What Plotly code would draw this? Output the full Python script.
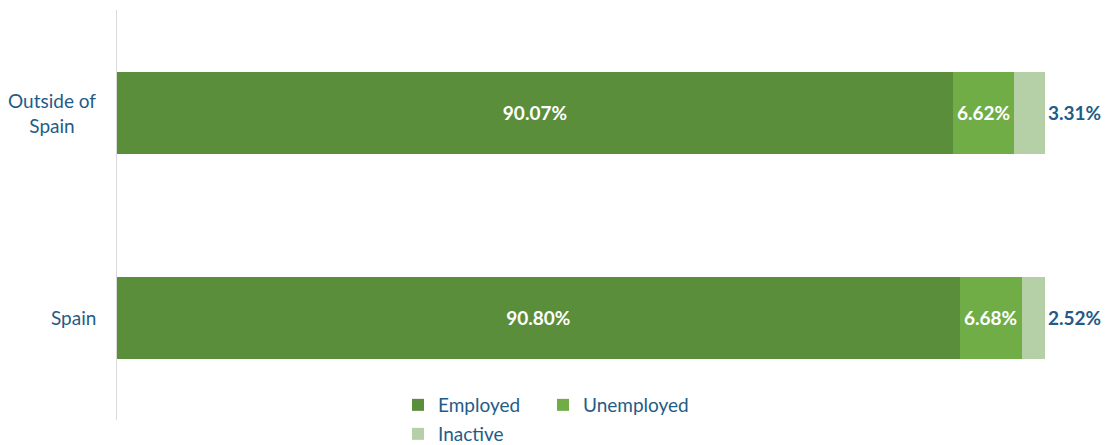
import plotly.graph_objects as go

# Labour status by place of origin (shares of population, %)
categories = ["Outside of Spain", "Spain"]
employed = [90.07, 90.80]
unemployed = [6.62, 6.68]
inactive = [3.31, 2.52]

tick_labels = ["Outside of<br>Spain", "Spain"]

C_EMP = "#5B8E3A"
C_UNEMP = "#70AD47"
C_INACT = "#B5CFA7"
C_TEXT = "#1F5C87"
FONT = "Lato, 'Open Sans', sans-serif"
FS = 19

W, H = 1118, 445
LEG_X = 398 / W

fig = go.Figure()

fig.add_trace(go.Bar(
    y=categories, x=employed, name="Employed", orientation="h",
    marker=dict(color=C_EMP, line=dict(width=0)),
    texttemplate="%{x:.2f}%", textposition="inside", insidetextanchor="middle",
    textfont=dict(color="white", size=FS, family=FONT, weight="bold"),
    legend="legend",
))
fig.add_trace(go.Bar(
    y=categories, x=unemployed, name="Unemployed", orientation="h",
    marker=dict(color=C_UNEMP, line=dict(width=0)),
    texttemplate="%{x:.2f}%", textposition="inside", insidetextanchor="middle",
    textfont=dict(color="white", size=FS, family=FONT, weight="bold"),
    legend="legend",
))
fig.add_trace(go.Bar(
    y=categories, x=inactive, name="Inactive", orientation="h",
    marker=dict(color=C_INACT, line=dict(width=0)),
    texttemplate="%{x:.2f}%", textposition="outside", cliponaxis=False,
    textfont=dict(color=C_TEXT, size=FS, family=FONT, weight="bold"),
    legend="legend2",
))

# Category labels, centred line by line, to the left of the axis
for cat, lab in zip(categories, tick_labels):
    fig.add_annotation(
        x=0, xref="paper", y=cat, yref="y", text=lab, showarrow=False,
        xanchor="right", yanchor="middle", align="center", xshift=-19,
        font=dict(size=FS, color=C_TEXT, family=FONT),
    )

fig.update_layout(
    barmode="stack",
    bargap=0.6,
    width=W, height=H,
    margin=dict(l=117, r=73, t=10, b=25, autoexpand=False),
    paper_bgcolor="white", plot_bgcolor="white",
    font=dict(family=FONT, color=C_TEXT, size=FS),
    legend=dict(
        orientation="h", x=LEG_X, xref="container", xanchor="left",
        y=1 - 405 / H, yref="container", yanchor="middle",
        font=dict(size=FS, color=C_TEXT), entrywidth=100, entrywidthmode="pixels",
        itemwidth=30, bgcolor="rgba(0,0,0,0)", traceorder="normal",
    ),
    legend2=dict(
        orientation="h", x=LEG_X, xref="container", xanchor="left",
        y=1 - 434 / H, yref="container", yanchor="middle",
        font=dict(size=FS, color=C_TEXT), itemwidth=30, bgcolor="rgba(0,0,0,0)",
    ),
    showlegend=True,
)

fig.update_xaxes(range=[0, 100], visible=False, fixedrange=True)
fig.update_yaxes(
    categoryorder="array", categoryarray=categories[::-1],
    showticklabels=False,
    showline=True, linecolor="#D9D9D9", linewidth=1,
    showgrid=False, ticks="",
)

fig.write_html("out.html")
